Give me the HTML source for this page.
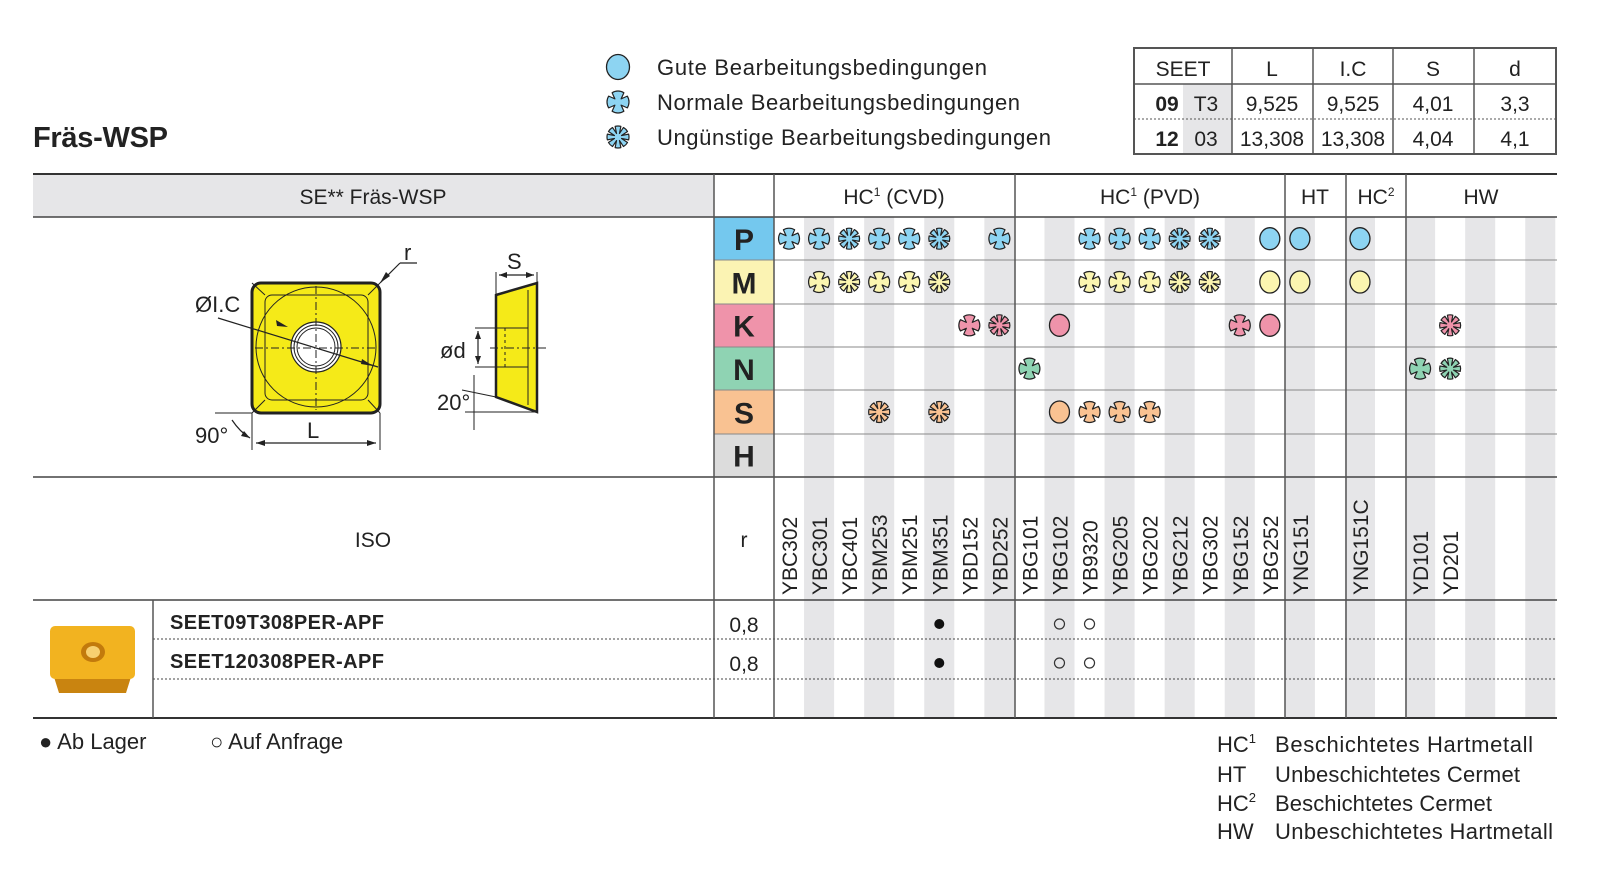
<!DOCTYPE html>
<html><head><meta charset="utf-8"><style>
html,body{margin:0;padding:0;background:#fff}
svg{display:block}
text{font-family:"Liberation Sans",sans-serif;fill:#222}
</style></head><body>
<svg id="s" width="1608" height="880" viewBox="0 0 1608 880" xmlns="http://www.w3.org/2000/svg">
<text x="33" y="147" font-size="29" font-weight="bold" textLength="135">Fräs-WSP</text>
<g id="legend"></g>
<text x="657" y="75" font-size="22" textLength="330">Gute Bearbeitungsbedingungen</text>
<text x="657" y="110" font-size="22" textLength="363">Normale Bearbeitungsbedingungen</text>
<text x="657" y="145" font-size="22" textLength="394">Ungünstige Bearbeitungsbedingungen</text>
<rect x="1183" y="84" width="49" height="70" fill="#e6e6e8"/>
<rect x="1134" y="48" width="422" height="106" fill="none" stroke="#555" stroke-width="2"/>
<line x1="1134" y1="84" x2="1556" y2="84" stroke="#555" stroke-width="1.5"/>
<line x1="1134" y1="119" x2="1556" y2="119" stroke="#555" stroke-width="1" stroke-dasharray="2,2"/>
<g stroke="#555" stroke-width="1.5">
<line x1="1232" y1="48" x2="1232" y2="154"/><line x1="1313" y1="48" x2="1313" y2="154"/>
<line x1="1393" y1="48" x2="1393" y2="154"/><line x1="1474" y1="48" x2="1474" y2="154"/>
</g>
<g font-size="21" text-anchor="middle">
<text x="1183" y="76">SEET</text><text x="1272" y="76">L</text><text x="1353" y="76">I.C</text><text x="1433" y="76">S</text><text x="1515" y="76">d</text>
<text x="1167" y="111" font-weight="bold">09</text><text x="1206" y="111">T3</text>
<text x="1272" y="111">9,525</text><text x="1353" y="111">9,525</text><text x="1433" y="111">4,01</text><text x="1515" y="111">3,3</text>
<text x="1167" y="146" font-weight="bold">12</text><text x="1206" y="146">03</text>
<text x="1272" y="146">13,308</text><text x="1353" y="146">13,308</text><text x="1433" y="146">4,04</text><text x="1515" y="146">4,1</text>
</g>
<rect x="33" y="174" width="681" height="43" fill="#e6e6e8"/>
<g id="stripes"></g>
<g id="rowlabels"></g>
<line x1="33" y1="174" x2="1557" y2="174" stroke="#333" stroke-width="2"/>
<line x1="33" y1="217" x2="1557" y2="217" stroke="#444" stroke-width="1.5"/>
<g stroke="#888" stroke-width="1">
<line x1="714" y1="260" x2="1557" y2="260"/><line x1="714" y1="304" x2="1557" y2="304"/>
<line x1="714" y1="347" x2="1557" y2="347"/><line x1="714" y1="390" x2="1557" y2="390"/>
<line x1="714" y1="434" x2="1557" y2="434"/>
</g>
<line x1="33" y1="477" x2="1557" y2="477" stroke="#444" stroke-width="1.5"/>
<line x1="33" y1="600" x2="1557" y2="600" stroke="#444" stroke-width="1.5"/>
<line x1="153" y1="639" x2="1557" y2="639" stroke="#444" stroke-width="1" stroke-dasharray="2,2"/>
<line x1="153" y1="679" x2="1557" y2="679" stroke="#444" stroke-width="1" stroke-dasharray="2,2"/>
<line x1="33" y1="718" x2="1557" y2="718" stroke="#333" stroke-width="2"/>
<g stroke="#555" stroke-width="1.5">
<line x1="153" y1="600" x2="153" y2="718"/>
<line x1="714" y1="174" x2="714" y2="718"/><line x1="774" y1="174" x2="774" y2="718"/>
<line x1="1015" y1="174" x2="1015" y2="718"/><line x1="1285" y1="174" x2="1285" y2="718"/>
<line x1="1346" y1="174" x2="1346" y2="718"/><line x1="1406" y1="174" x2="1406" y2="718"/>
</g>
<g font-size="21" text-anchor="middle">
<text x="373" y="204">SE** Fräs-WSP</text>
<text x="894" y="204">HC<tspan font-size="12" dy="-8">1</tspan><tspan dy="8"> (CVD)</tspan></text>
<text x="1150" y="204">HC<tspan font-size="12" dy="-8">1</tspan><tspan dy="8"> (PVD)</tspan></text>
<text x="1315" y="204">HT</text>
<text x="1376" y="204">HC<tspan font-size="12" dy="-8">2</tspan></text>
<text x="1481" y="204">HW</text>
<text x="373" y="547">ISO</text>
<text x="744" y="547">r</text>
<text x="744" y="632">0,8</text>
<text x="744" y="671">0,8</text>
</g>
<g font-size="20" font-weight="bold">
<text x="170" y="629" textLength="214">SEET09T308PER-APF</text>
<text x="170" y="668" textLength="214">SEET120308PER-APF</text>
</g>
<g id="grades"></g>
<g id="icons"></g>
<path d="M54 677 L131 677 L126 693 L59 693 Z" fill="#c98410"/>
<rect x="50" y="626" width="85" height="53" rx="5" fill="#f2b320"/>
<ellipse cx="93" cy="652" rx="12" ry="10" fill="#c27a0c"/>
<ellipse cx="93" cy="652" rx="7" ry="6" fill="#f7d070"/>
<g stroke="#222" fill="none">
<rect x="252" y="283" width="128" height="130" rx="9" fill="#f5ea18" stroke-width="3"/>
<rect x="265" y="295" width="103" height="105" rx="7" stroke-width="1"/>
<circle cx="316" cy="347" r="60" stroke-width="1"/>
<line x1="252" y1="283" x2="265" y2="295" stroke-width="1"/><line x1="380" y1="283" x2="368" y2="295" stroke-width="1"/>
<line x1="252" y1="413" x2="265" y2="400" stroke-width="1"/><line x1="380" y1="413" x2="368" y2="400" stroke-width="1"/>
<circle cx="316" cy="347" r="25" fill="#fff" stroke-width="1.2"/>
<circle cx="316" cy="347" r="22" stroke-width="1"/>
<circle cx="316" cy="347" r="19" stroke-width="1"/>
<line x1="255" y1="348" x2="377" y2="348" stroke-width="1" stroke-dasharray="8,3,2,3"/>
<line x1="316" y1="286" x2="316" y2="410" stroke-width="1" stroke-dasharray="8,3,2,3"/>
<line x1="218" y1="318" x2="378" y2="367" stroke-width="1.2"/>
<line x1="417" y1="263" x2="400" y2="263" stroke-width="1.2"/>
<line x1="400" y1="263" x2="380" y2="283" stroke-width="1.2"/>
<line x1="215" y1="413" x2="252" y2="413" stroke-width="1"/>
<line x1="252" y1="413" x2="252" y2="450" stroke-width="1"/>
<line x1="380" y1="413" x2="380" y2="450" stroke-width="1"/>
<line x1="256" y1="443" x2="376" y2="443" stroke-width="1.2"/>
<path d="M232 420 Q240 432 250 438" stroke-width="1.2"/>
<polygon points="496,295 537,283 537,412 496,397" fill="#f5ea18" stroke-width="2.5"/>
<line x1="528" y1="290" x2="528" y2="405" stroke-width="1"/>
<line x1="496" y1="272" x2="496" y2="295" stroke-width="1"/>
<line x1="537" y1="272" x2="537" y2="283" stroke-width="1"/>
<line x1="499" y1="275" x2="534" y2="275" stroke-width="1.2"/>
<line x1="475" y1="328" x2="528" y2="328" stroke-width="1"/>
<line x1="475" y1="367" x2="528" y2="367" stroke-width="1"/>
<line x1="505" y1="328" x2="505" y2="367" stroke-width="1" stroke-dasharray="3,3"/>
<line x1="490" y1="348" x2="548" y2="348" stroke-width="1" stroke-dasharray="8,3,2,3"/>
<line x1="478" y1="331" x2="478" y2="364" stroke-width="1.2"/>
<line x1="465" y1="412" x2="537" y2="412" stroke-width="1"/>
<line x1="462" y1="390" x2="496" y2="397" stroke-width="1"/>
<line x1="474" y1="375" x2="474" y2="430" stroke-width="1"/>
</g>
<g fill="#222">
<polygon points="288,327 276,320 277,326"/><polygon points="373,366 361,364 362,359"/>
<polygon points="380,283 386,272 390,276"/>
<polygon points="256,443 265,440 265,446"/><polygon points="376,443 367,440 367,446"/>
<polygon points="250,438 241,436 244,431"/>
<polygon points="499,275 507,272 507,278"/><polygon points="534,275 526,272 526,278"/>
<polygon points="478,331 475,339 481,339"/><polygon points="478,364 475,356 481,356"/>
</g>
<g font-size="22">
<text x="195" y="312">ØI.C</text>
<text x="404" y="260">r</text>
<text x="195" y="443">90°</text>
<text x="307" y="438">L</text>
<text x="507" y="269">S</text>
<text x="440" y="358">ød</text>
<text x="437" y="410">20°</text>
</g>
<g font-size="22">
<text x="39" y="749">● Ab Lager</text>
<text x="210" y="749">○ Auf Anfrage</text>
<text x="1217" y="752">HC<tspan font-size="13" dy="-9">1</tspan></text>
<text x="1217" y="782">HT</text>
<text x="1217" y="811">HC<tspan font-size="13" dy="-9">2</tspan></text>
<text x="1217" y="839">HW</text>
<text x="1275" y="752" textLength="258">Beschichtetes Hartmetall</text>
<text x="1275" y="782" textLength="245">Unbeschichtetes Cermet</text>
<text x="1275" y="811" textLength="217">Beschichtetes Cermet</text>
<text x="1275" y="839" textLength="278">Unbeschichtetes Hartmetall</text>
</g>
</svg>
<script>
(function(){
var NS="http://www.w3.org/2000/svg";
function el(p,t,a,txt){var e=document.createElementNS(NS,t);for(var k in a)e.setAttribute(k,a[k]);if(txt!==undefined)e.textContent=txt;document.getElementById(p).appendChild(e);return e;}
function cx(k){return 774+30.05*(k-0.5);}
for(var k=2;k<=26;k+=2){el("stripes","rect",{x:774+30.05*(k-1),y:217,width:30.05,height:501,fill:"#e6e6e8"});}
var rows=[["P","#74c8ee","#8dd4f2"],["M","#fbf3b3","#fbf5b0"],["K","#ef93aa","#ef93aa"],["N","#8fd3b3","#8fd3b3"],["S","#f9c292","#f9c292"],["H","#dcdcdc","#ddd"]];
var rh=43.33;
rows.forEach(function(r,i){var y=217+i*rh;el("rowlabels","rect",{x:714,y:y,width:60,height:rh,fill:r[1]});
el("rowlabels","text",{x:744,y:y+33,"font-size":30,"font-weight":"bold","text-anchor":"middle",fill:"#111"},r[0]);});
function icon(g,x,y,type,col,r){
 r=r||10.5;
 if(type=="G"){el(g,"ellipse",{cx:x,cy:y,rx:r-0.5,ry:r+0.5,fill:col,stroke:"#222","stroke-width":1.3});return;}
 var n=type=="N"?4:8,off=type=="N"?Math.PI/4:Math.PI/8,inner=type=="N"?r*0.4:r*0.35,hw=type=="N"?0.22:0.13;
 // build outline path: circle arcs with notches
 var d="";
 for(var i=0;i<n;i++){var a=off+i*2*Math.PI/n;
  var a1=a-hw,a2=a+hw,an=a+2*Math.PI/n-hw;
  var p1=[x+Math.cos(a1)*r,y+Math.sin(a1)*r],pi=[x+Math.cos(a)*inner,y+Math.sin(a)*inner],p2=[x+Math.cos(a2)*r,y+Math.sin(a2)*r],p3=[x+Math.cos(an)*r,y+Math.sin(an)*r];
  if(i==0)d+="M"+p1[0].toFixed(2)+" "+p1[1].toFixed(2);
  d+=" L"+pi[0].toFixed(2)+" "+pi[1].toFixed(2)+" L"+p2[0].toFixed(2)+" "+p2[1].toFixed(2)+" A"+r+" "+r+" 0 0 1 "+p3[0].toFixed(2)+" "+p3[1].toFixed(2);
 }
 el(g,"path",{d:d+"Z",fill:col,stroke:"#222","stroke-width":1.2,"stroke-linejoin":"round"});
}
var data={
P:"1N 2N 3B 4N 5N 6B 8N 11N 12N 13N 14B 15B 17G 18G 20G",
M:"2N 3B 4N 5N 6B 11N 12N 13N 14B 15B 17G 18G 20G",
K:"7N 8B 10G 16N 17G 23B",
N:"9N 22N 23B",
S:"4B 6B 10G 11N 12N 13N",H:""};
rows.forEach(function(r,i){var y=217+i*rh+rh/2;var s=data[r[0]];if(!s)return;
 s.split(" ").forEach(function(t){var k=parseInt(t),ty=t.slice(-1);icon("icons",cx(k),y,ty,r[2]);});});
icon("legend",618,67,"G","#8dd4f2",12);icon("legend",618,102,"N","#8dd4f2",11);icon("legend",618,137,"B","#8dd4f2",11);
var g=["YBC302","YBC301","YBC401","YBM253","YBM251","YBM351","YBD152","YBD252","YBG101","YBG102","YB9320","YBG205","YBG202","YBG212","YBG302","YBG152","YBG252","YNG151","","YNG151C","","YD101","YD201","","",""];
g.forEach(function(n,i){if(!n)return;var x=cx(i+1)+8;el("grades","text",{x:x,y:595,"font-size":21,transform:"rotate(-90 "+x+" 595)"},n);});
[632,671].forEach(function(y){
 el("icons","circle",{cx:cx(6),cy:y-8,r:5,fill:"#111"});
 el("icons","circle",{cx:cx(10),cy:y-8,r:5,fill:"none",stroke:"#333","stroke-width":1.2});
 el("icons","circle",{cx:cx(11),cy:y-8,r:5,fill:"none",stroke:"#333","stroke-width":1.2});
});
})();
</script>
</body></html>
